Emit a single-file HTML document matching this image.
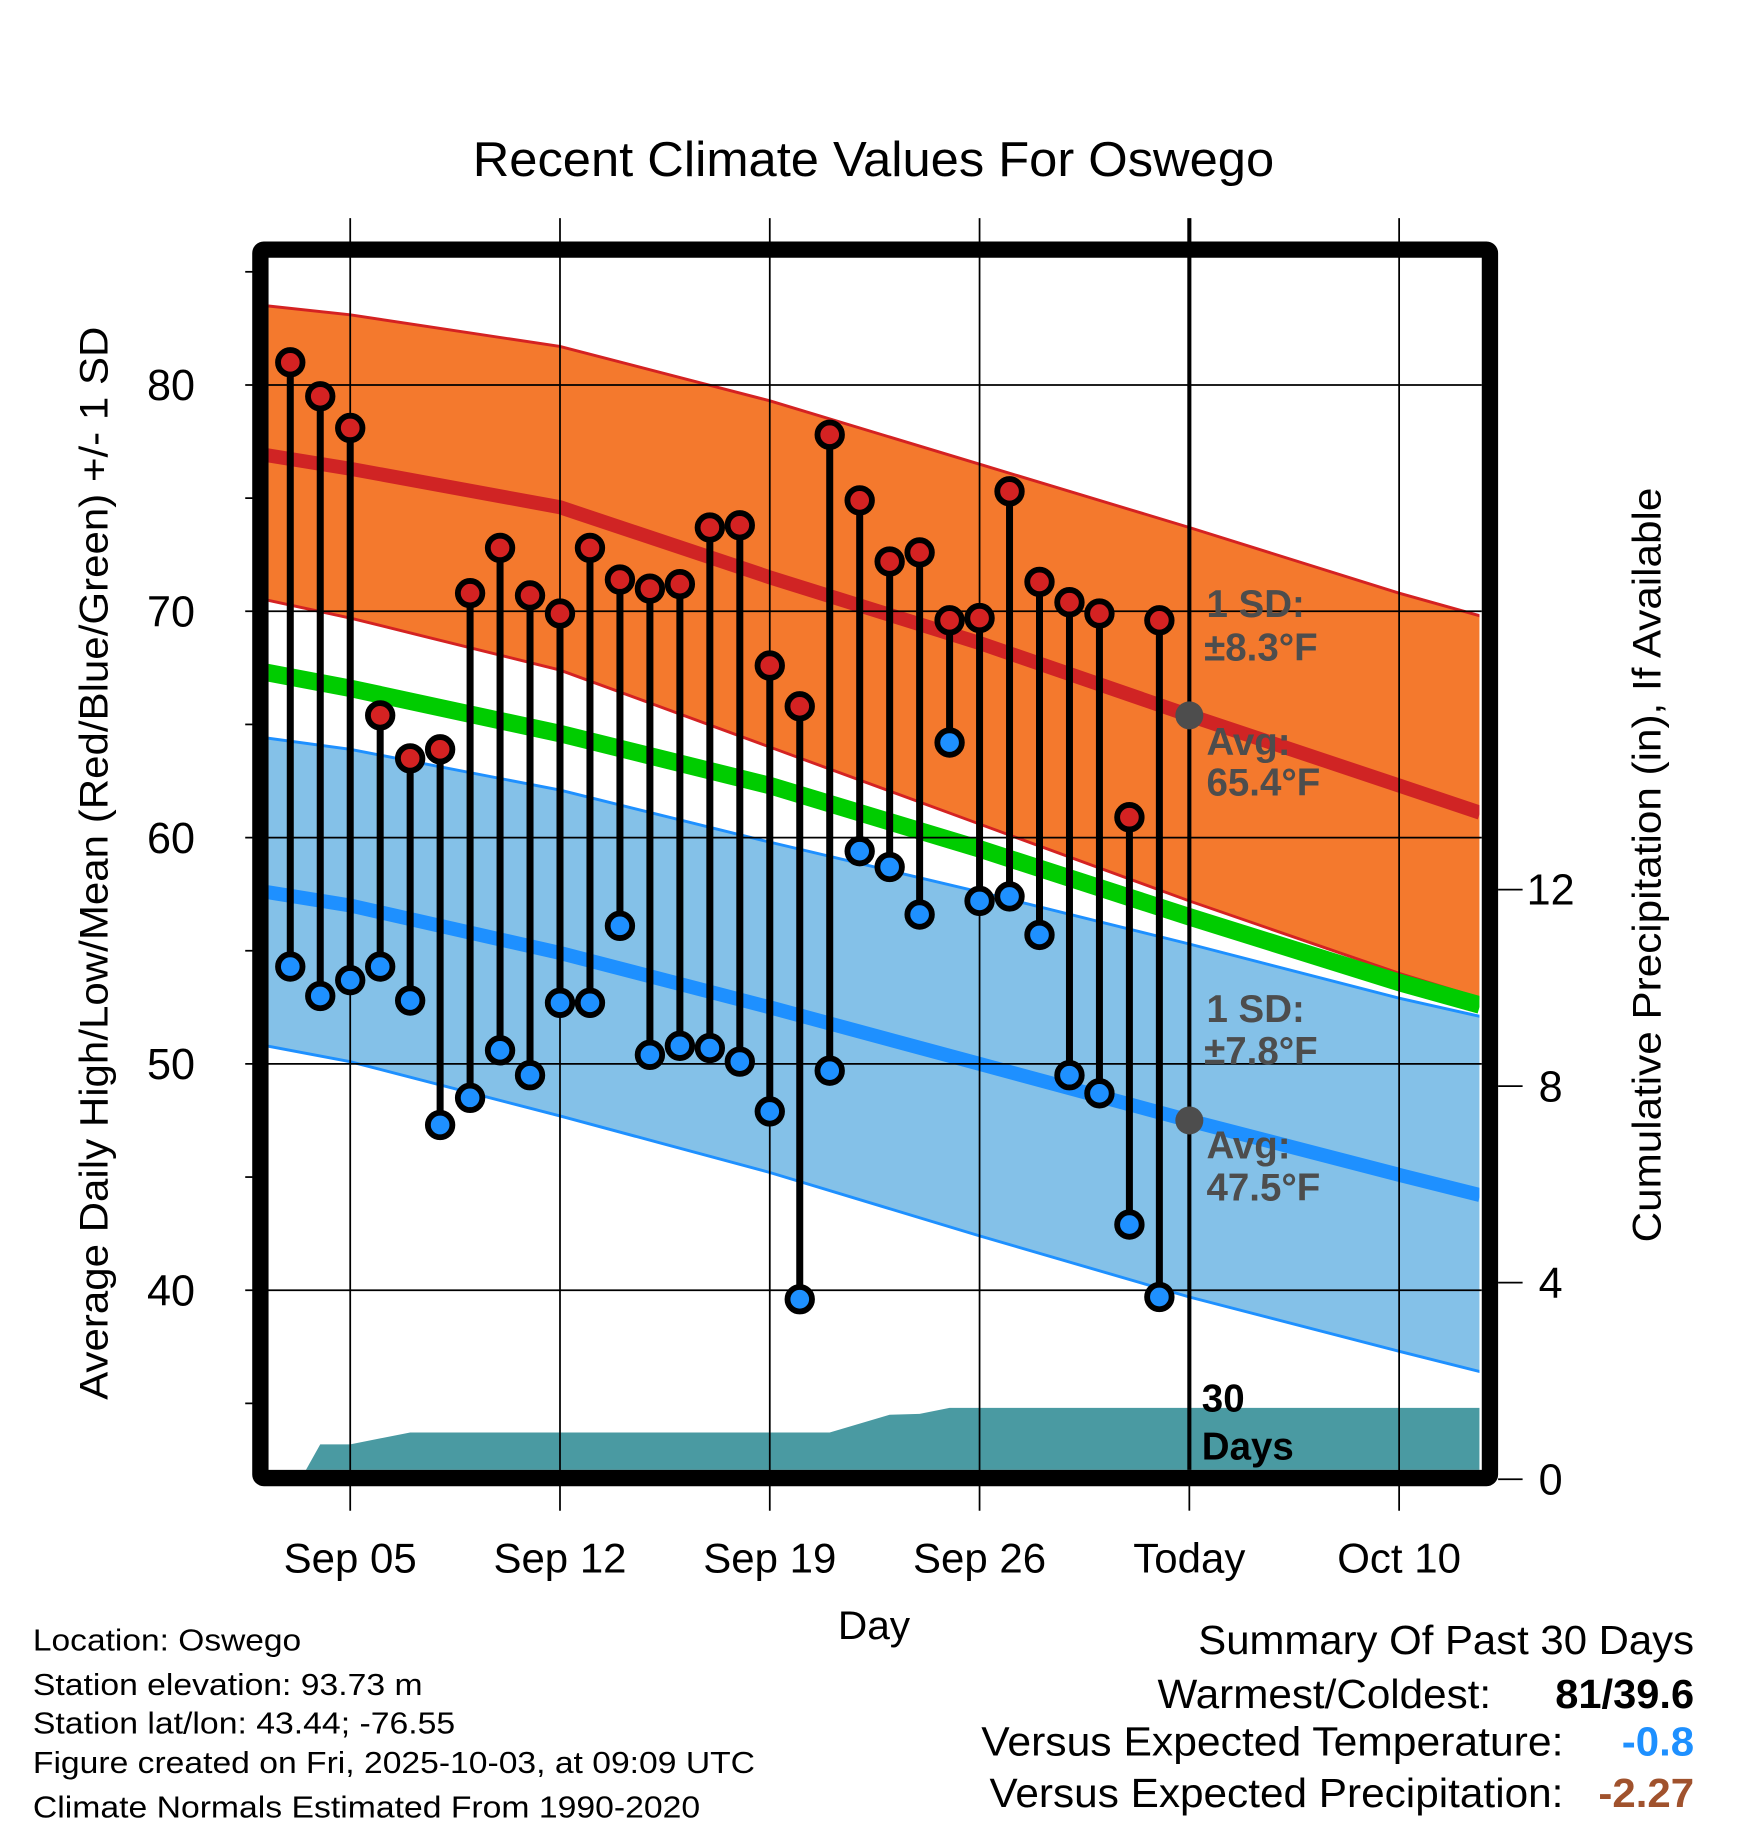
<!DOCTYPE html>
<html><head><meta charset="utf-8"><style>
html,body{margin:0;padding:0;background:#fff;}
svg{display:block;font-family:"Liberation Sans",Arial,sans-serif;}
</style></head><body>
<svg id="chart" width="1748" height="1828" viewBox="0 0 1498 1567" xmlns="http://www.w3.org/2000/svg">
<defs><clipPath id="clipInner"><rect x="230" y="220" width="1038" height="1040"/></clipPath></defs>
<rect width="1498" height="1567" fill="#fff"/>
<text x="405" y="151" font-size="42" textLength="687" lengthAdjust="spacingAndGlyphs">Recent Climate Values For Oswego</text>
<g id="bands" clip-path="url(#clipInner)"></g>
<g id="grid"></g>
<g id="marks"></g>
<g id="annot"></g>
<rect x="223" y="214" width="1054" height="1053" fill="none" stroke="#000" stroke-width="14" rx="3"/>
<g id="axes"></g>
<text transform="translate(92,1200) rotate(-90)" font-size="34" textLength="920" lengthAdjust="spacingAndGlyphs">Average Daily High/Low/Mean (Red/Blue/Green) +/- 1 SD</text>
<text transform="translate(1423,1065) rotate(-90)" font-size="34" textLength="647" lengthAdjust="spacingAndGlyphs">Cumulative Precipitation (in), If Available</text>
<text x="718" y="1405" font-size="34" textLength="62" lengthAdjust="spacingAndGlyphs">Day</text>
<g font-size="26">
<text x="28" y="1415" textLength="230" lengthAdjust="spacingAndGlyphs">Location: Oswego</text>
<text x="28" y="1453" textLength="334" lengthAdjust="spacingAndGlyphs">Station elevation: 93.73 m</text>
<text x="28" y="1486" textLength="362" lengthAdjust="spacingAndGlyphs">Station lat/lon: 43.44; -76.55</text>
<text x="28" y="1520" textLength="619" lengthAdjust="spacingAndGlyphs">Figure created on Fri, 2025-10-03, at 09:09 UTC</text>
<text x="28" y="1558" textLength="572" lengthAdjust="spacingAndGlyphs">Climate Normals Estimated From 1990-2020</text>
</g>
<g font-size="35">
<text x="1027" y="1418" textLength="425" lengthAdjust="spacingAndGlyphs">Summary Of Past 30 Days</text>
<text x="992" y="1464" textLength="286" lengthAdjust="spacingAndGlyphs">Warmest/Coldest:</text>
<text x="1333" y="1464" font-weight="bold" textLength="119" lengthAdjust="spacingAndGlyphs">81/39.6</text>
<text x="841" y="1505" textLength="499" lengthAdjust="spacingAndGlyphs">Versus Expected Temperature:</text>
<text x="1390" y="1505" font-weight="bold" fill="#1e90ff" textLength="62" lengthAdjust="spacingAndGlyphs">-0.8</text>
<text x="848" y="1549" textLength="492" lengthAdjust="spacingAndGlyphs">Versus Expected Precipitation:</text>
<text x="1370" y="1549" font-weight="bold" fill="#a0522d" textLength="82" lengthAdjust="spacingAndGlyphs">-2.27</text>
</g>
</svg>
<script>
const highs=[81.0,79.5,78.1,65.4,63.5,63.9,70.8,72.8,70.7,69.9,72.8,71.4,71.0,71.2,73.7,73.8,67.6,65.8,77.8,74.9,72.2,72.6,69.6,69.7,75.3,71.3,70.4,69.9,60.9,69.6];
const lows=[54.3,53.0,53.7,54.3,52.8,47.3,48.5,50.6,49.5,52.7,52.7,56.1,50.4,50.8,50.7,50.1,47.9,39.6,49.7,59.4,58.7,56.6,64.2,57.2,57.4,55.7,49.5,48.7,42.9,39.7];
const precip=[0,0.71,0.71,0.83,0.95,0.95,0.95,0.95,0.95,0.95,0.95,0.95,0.95,0.95,0.95,0.95,0.95,0.95,0.95,1.13,1.31,1.33,1.45,1.45,1.45,1.45,1.45,1.45,1.45,1.45];
const firstDay=3;
const normDays=[2.2,5,12,19,26,33,40,42.7];
const upperHigh=[83.5,83.1,81.7,79.3,76.5,73.7,70.8,69.8];
const avgHigh=[76.9,76.3,74.6,71.5,68.6,65.4,62.3,61.1];
const lowerHigh=[70.5,69.7,67.4,64.0,60.6,57.2,54.0,52.9];
const meanT=[67.3,66.6,64.6,62.3,59.5,56.5,53.6,52.6];
const upperLow=[64.4,63.9,62.1,59.8,57.6,55.3,52.9,52.1];
const avgLow=[57.6,57.0,54.9,52.5,50.0,47.5,45.1,44.2];
const lowerLow=[50.8,50.1,47.7,45.2,42.4,39.7,37.3,36.4];
const yTicks=[40,50,60,70,80];
const y2Ticks=[0,4,8,12];
const xTickDays=[5,12,19,26,33,40];
const xTickLabels=["Sep 05","Sep 12","Sep 19","Sep 26","Today","Oct 10"];
const todayDay=33;

const NS="http://www.w3.org/2000/svg";
const X=d=>300+(d-5)*25.69;
const Y=v=>330+(80-v)*19.4;
const Y2=p=>1268-p*42.12;
function mk(tag,attrs,parent){const e=document.createElementNS(NS,tag);for(const k in attrs)e.setAttribute(k,attrs[k]);parent.appendChild(e);return e;}
const bands=document.getElementById('bands'),grid=document.getElementById('grid'),marks=document.getElementById('marks'),axes=document.getElementById('axes'),annot=document.getElementById('annot');
const pts=arr=>arr.map((v,i)=>X(normDays[i]).toFixed(1)+','+Y(v).toFixed(1));
function band(up,lo,fill,name){const p=pts(up).concat(pts(lo).reverse()).join(' ');const e=mk('polygon',{points:p,fill:fill},bands);

}
function line(arr,col,w,name){const e=mk('polyline',{points:pts(arr).join(' '),fill:'none',stroke:col,'stroke-width':w},bands);

}
band(upperHigh,lowerHigh,'#f4792d','high-sd-band');
band(upperLow,lowerLow,'#84c1e8','low-sd-band');
line(upperHigh,'#d42222',2.5,'high-upper-sd');
line(lowerHigh,'#d42222',2.5,'high-lower-sd');
line(avgHigh,'#d02424',12,'avg-high-line');
line(meanT,'#00cc00',15,'mean-temp-line');
line(upperLow,'#1e90ff',2.5,'low-upper-sd');
line(lowerLow,'#1e90ff',2.5,'low-lower-sd');
line(avgLow,'#1e90ff',12,'avg-low-line');
let pp=[(X(firstDay)+9).toFixed(1)+','+1262];
precip.forEach((p,i)=>{pp.push(X(firstDay+i+(i===0?0.35:0)).toFixed(1)+','+Y2(p).toFixed(1));});
pp.push('1275,'+Y2(precip[precip.length-1]).toFixed(1));pp.push('1275,1262');
const pa=mk('polygon',{points:pp.join(' '),fill:'#4a9aa2'},bands);


yTicks.forEach(v=>{const l=mk('line',{x1:210,x2:1270,y1:Y(v),y2:Y(v),stroke:'#000','stroke-width':1.5},grid);


const t=mk('text',{x:167,y:Y(v)+13,'font-size':37,'text-anchor':'end'},axes);t.textContent=v;

});
for(let v=35;v<=85;v+=10){mk('line',{x1:210,x2:222,y1:Y(v),y2:Y(v),stroke:'#000','stroke-width':1.5},axes);}
xTickDays.forEach((d,i)=>{const isT=d===todayDay;const l=mk('line',{x1:X(d),x2:X(d),y1:187,y2:isT?1260:1295,stroke:'#000','stroke-width':isT?3.5:1.5},grid);


if(isT)mk('line',{x1:X(d),x2:X(d),y1:1270,y2:1295,stroke:'#000','stroke-width':1.5},axes);
const t=mk('text',{x:X(d),y:1348,'font-size':36,'text-anchor':'middle'},axes);t.textContent=xTickLabels[i];

});
y2Ticks.forEach(p=>{mk('line',{x1:1284,x2:1305,y1:Y2(p),y2:Y2(p),stroke:'#000','stroke-width':1.5},axes);
const t=mk('text',{x:1329,y:Y2(p)+13,'font-size':37,'text-anchor':'middle'},axes);t.textContent=p;

});
highs.forEach((h,i)=>{const x=X(firstDay+i);const lo=lows[i];
const s=mk('line',{x1:x,x2:x,y1:Y(h),y2:Y(lo),stroke:'#000','stroke-width':6},marks);


const c1=mk('circle',{cx:x,cy:Y(h),r:10.5,fill:'#d42222',stroke:'#000','stroke-width':5},marks);


const c2=mk('circle',{cx:x,cy:Y(lo),r:10.5,fill:'#1e90ff',stroke:'#000','stroke-width':5},marks);

});
const ti=normDays.indexOf(todayDay);
const d1=mk('circle',{cx:X(todayDay),cy:Y(avgHigh[ti]),r:12,fill:'#4d4d4d'},annot);


const d2=mk('circle',{cx:X(todayDay),cy:Y(avgLow[ti]),r:12,fill:'#4d4d4d'},annot);


function lab(txt,x,y,col,name){const t=mk('text',{x:x,y:y,'font-size':33,'font-weight':'bold',fill:col},annot);t.textContent=txt;

}
lab('1 SD:',1034,529,'#4d4d4d','high-sd-label');
lab('\u00b18.3\u00b0F',1032,566,'#4d4d4d','high-sd-value');
lab('Avg:',1034,647,'#4d4d4d','high-avg-label');
lab('65.4\u00b0F',1034,682,'#4d4d4d','high-avg-value');
lab('1 SD:',1034,876,'#4d4d4d','low-sd-label');
lab('\u00b17.8\u00b0F',1032,912,'#4d4d4d','low-sd-value');
lab('Avg:',1034,993,'#4d4d4d','low-avg-label');
lab('47.5\u00b0F',1034,1029,'#4d4d4d','low-avg-value');
lab('30',1030,1210,'#000','precip-days-label');
lab('Days',1030,1251,'#000','precip-days-label-2');
</script>
</body></html>
